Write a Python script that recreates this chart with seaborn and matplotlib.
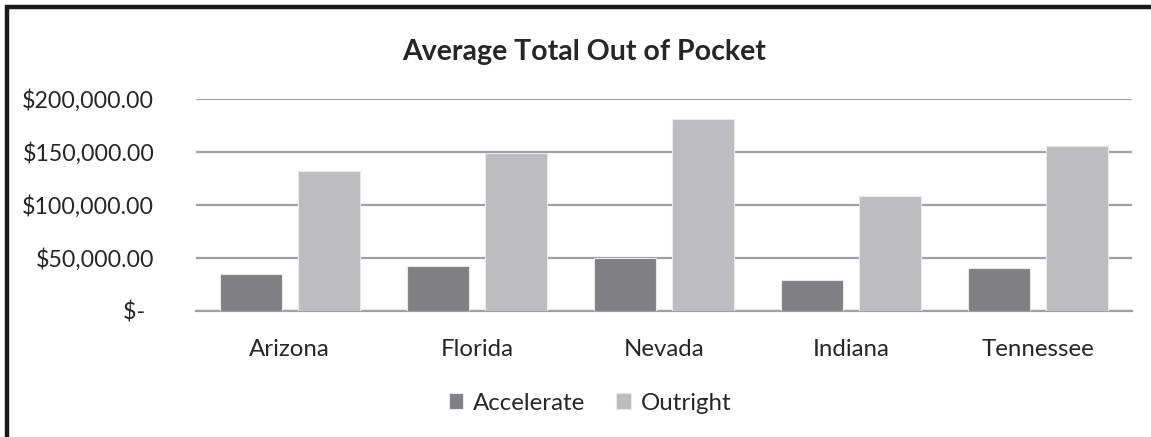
import matplotlib.pyplot as plt
import matplotlib.patches as patches
import seaborn as sns
import pandas as pd

states = ['Arizona', 'Florida', 'Nevada', 'Indiana', 'Tennessee']
accelerate = [35000, 42200, 49700, 29300, 40300]
outright = [132100, 149400, 180900, 108200, 155400]
series = ['Accelerate', 'Outright']
y_ticks = [0, 50000, 100000, 150000, 200000]
y_labels = ['$- \u2009', '$50,000.00', '$100,000.00', '$150,000.00', '$200,000.00']

df = pd.DataFrame({
    'State': states * 2,
    'Series': [series[0]] * len(states) + [series[1]] * len(states),
    'Value': accelerate + outright,
})

sns.set_style('white')
plt.rcParams['font.family'] = ['Lato', 'DejaVu Sans']

fig = plt.figure(figsize=(11.51, 4.37), dpi=100)
ax = fig.add_axes([196 / 1151, 1 - 311 / 437, 936 / 1151, 212 / 437])

sns.barplot(data=df, x='State', y='Value', hue='Series', order=states,
            palette=['#7f7f83', '#bcbdc1'], width=0.833, gap=0.205,
            edgecolor='#e8e8ea', linewidth=0.8, ax=ax, zorder=3)

ax.set_ylim(0, 200000)
ax.set_xlim(-0.5, len(states) - 0.5)
ax.set_yticks(y_ticks)
ax.set_yticklabels(y_labels)
ax.yaxis.grid(True, color='#a0a0a4', linewidth=1.6)
ax.set_axisbelow(True)
for s in ['left', 'right', 'top']:
    ax.spines[s].set_visible(False)
ax.spines['bottom'].set_color('#a0a0a4')
ax.spines['bottom'].set_linewidth(1.6)
ax.tick_params(axis='both', length=0, colors='#262626')
ax.tick_params(axis='y', pad=30, labelsize=16.7)
ax.tick_params(axis='x', pad=20, labelsize=17.3)
ax.set_xlabel('')
ax.set_ylabel('')

fig.text(584 / 1151, 1 - 52 / 437, 'Average Total Out of Pocket',
         ha='center', va='center', fontsize=20.5, fontweight='bold', color='#262626')

handles, labels = ax.get_legend_handles_labels()
ax.legend(handles, labels, loc='center', bbox_to_anchor=(590 / 1151, 1 - 403 / 437),
          bbox_transform=fig.transFigure, ncol=2, frameon=False, fontsize=17.3,
          handlelength=0.6, handleheight=0.6, handletextpad=0.4, columnspacing=1.3)

# black border of the chart area (only top and left fall inside the crop)
border = patches.Rectangle((7 / 1151, -0.2), 1.5, 1.2 - 7 / 437,
                           transform=fig.transFigure, fill=False,
                           edgecolor='#1a1a1a', linewidth=3.2, clip_on=False)
fig.patches.append(border)

fig.savefig('out.png', dpi=100)
